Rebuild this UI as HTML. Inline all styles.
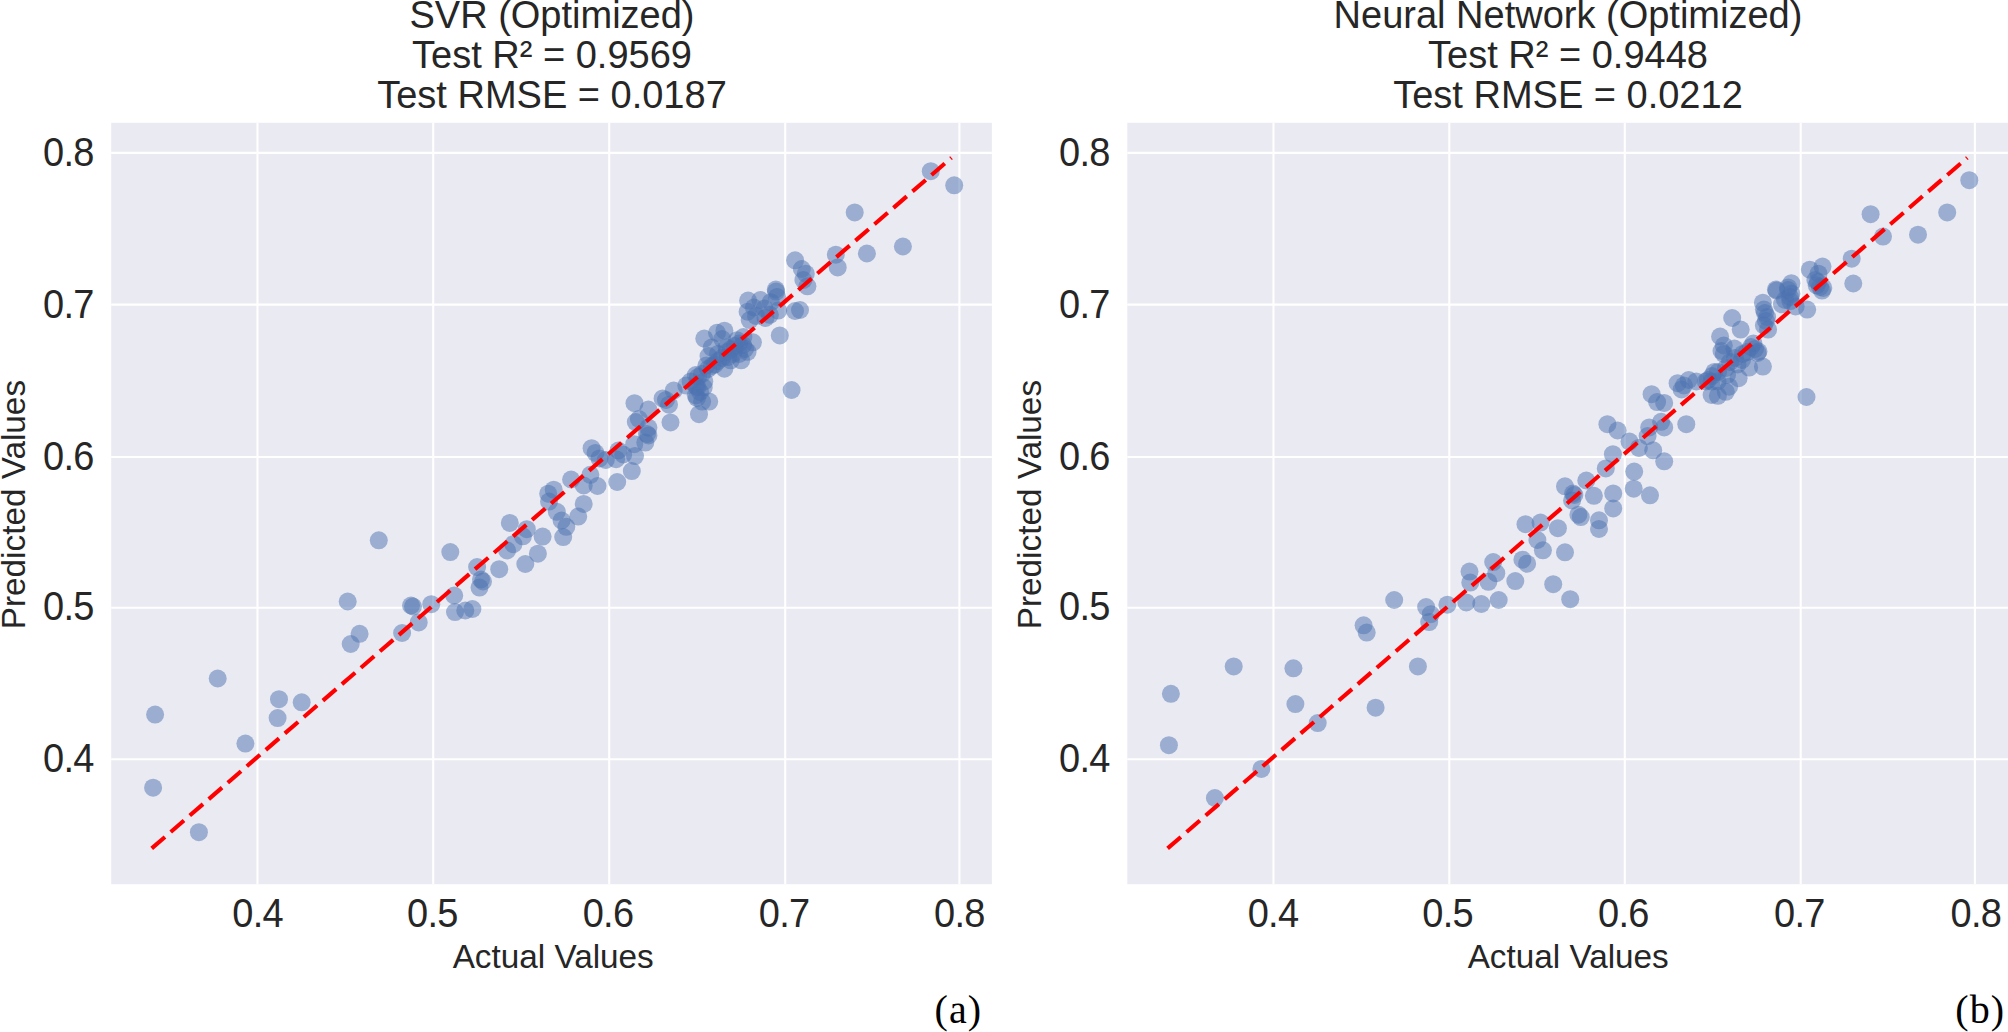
<!DOCTYPE html>
<html lang="en"><head><meta charset="utf-8"><title>Predicted vs Actual</title>
<style>
html,body{margin:0;padding:0;background:#fff;}
body{width:2008px;height:1032px;overflow:hidden;}
svg{display:block;}
.s{font-family:"Liberation Sans",sans-serif;fill:#262626;}
.t{font-size:38px;}
.k{font-size:38px;letter-spacing:-0.7px;}
.l{font-size:33.3px;}
.g{font-family:"Liberation Serif",serif;font-size:40px;fill:#000;letter-spacing:1px;}
.gr{stroke:#fff;stroke-width:2.1;}
.d circle{fill:#4c72b0;fill-opacity:.5;}
.rl{stroke:#ff0000;stroke-width:4.1;stroke-dasharray:17.54 7.59;fill:none;}
</style></head><body>
<svg width="2008" height="1032" viewBox="0 0 2008 1032">
<g>
<rect x="111.2" y="122.8" width="880.7" height="761.4" fill="#eaeaf2"/>
<line class="gr" x1="257.5" y1="122.8" x2="257.5" y2="884.2"/>
<line class="gr" x1="433.2" y1="122.8" x2="433.2" y2="884.2"/>
<line class="gr" x1="609.2" y1="122.8" x2="609.2" y2="884.2"/>
<line class="gr" x1="785.2" y1="122.8" x2="785.2" y2="884.2"/>
<line class="gr" x1="959.4" y1="122.8" x2="959.4" y2="884.2"/>
<line class="gr" x1="111.2" y1="152.9" x2="991.9" y2="152.9"/>
<line class="gr" x1="111.2" y1="304.6" x2="991.9" y2="304.6"/>
<line class="gr" x1="111.2" y1="457" x2="991.9" y2="457"/>
<line class="gr" x1="111.2" y1="607.7" x2="991.9" y2="607.7"/>
<line class="gr" x1="111.2" y1="759.2" x2="991.9" y2="759.2"/>
<g class="d">
<circle cx="155.1" cy="714.6" r="9"/><circle cx="153.1" cy="787.7" r="9"/><circle cx="198.9" cy="832.2" r="9"/><circle cx="245.4" cy="743.6" r="9"/><circle cx="279" cy="699.2" r="9"/><circle cx="277.6" cy="718.1" r="9"/><circle cx="301.7" cy="702.3" r="9"/><circle cx="217.7" cy="678.5" r="9"/><circle cx="378.8" cy="540.3" r="9"/><circle cx="347.7" cy="601.5" r="9"/><circle cx="359.6" cy="633.8" r="9"/><circle cx="350.7" cy="644" r="9"/><circle cx="402.1" cy="633" r="9"/><circle cx="411" cy="605.5" r="9"/><circle cx="413" cy="606.5" r="9"/><circle cx="450.3" cy="552.1" r="9"/><circle cx="431.3" cy="604.2" r="9"/><circle cx="418.7" cy="622.4" r="9"/><circle cx="454.2" cy="595.5" r="9"/><circle cx="455" cy="612.1" r="9"/><circle cx="465.3" cy="610.5" r="9"/><circle cx="472.4" cy="609" r="9"/><circle cx="477.1" cy="567.1" r="9"/><circle cx="481" cy="579.5" r="9"/><circle cx="483" cy="581.5" r="9"/><circle cx="479.5" cy="587.6" r="9"/><circle cx="499.2" cy="569.2" r="9"/><circle cx="509.8" cy="522.9" r="9"/><circle cx="525.3" cy="564" r="9"/><circle cx="537.9" cy="553.7" r="9"/><circle cx="542.6" cy="536.6" r="9"/><circle cx="526.8" cy="529.2" r="9"/><circle cx="522.9" cy="536.3" r="9"/><circle cx="513.4" cy="544.2" r="9"/><circle cx="507.1" cy="550.5" r="9"/><circle cx="563.2" cy="537.1" r="9"/><circle cx="566.3" cy="526.8" r="9"/><circle cx="561.6" cy="520.5" r="9"/><circle cx="556.8" cy="511.8" r="9"/><circle cx="549" cy="501.6" r="9"/><circle cx="553.7" cy="489.7" r="9"/><circle cx="548.2" cy="493.7" r="9"/><circle cx="578.2" cy="516.6" r="9"/><circle cx="583.7" cy="503.9" r="9"/><circle cx="571.1" cy="479.5" r="9"/><circle cx="583.7" cy="485.5" r="9"/><circle cx="597.5" cy="486" r="9"/><circle cx="590.4" cy="474.8" r="9"/><circle cx="617.2" cy="482" r="9"/><circle cx="591.6" cy="448.2" r="9"/><circle cx="595.5" cy="452.9" r="9"/><circle cx="599.5" cy="458.4" r="9"/><circle cx="605.8" cy="460" r="9"/><circle cx="616.1" cy="459.2" r="9"/><circle cx="618.4" cy="450.5" r="9"/><circle cx="623.2" cy="454.5" r="9"/><circle cx="631.8" cy="471.1" r="9"/><circle cx="635" cy="456.1" r="9"/><circle cx="634.2" cy="444.2" r="9"/><circle cx="645.3" cy="442.6" r="9"/><circle cx="647" cy="434" r="9"/><circle cx="648.4" cy="435.4" r="9"/><circle cx="648.4" cy="427.6" r="9"/><circle cx="635.8" cy="422.1" r="9"/><circle cx="638.9" cy="419" r="9"/><circle cx="648.4" cy="409.5" r="9"/><circle cx="634.5" cy="403.2" r="9"/><circle cx="670.5" cy="422.4" r="9"/><circle cx="669" cy="404.7" r="9"/><circle cx="662.6" cy="398.4" r="9"/><circle cx="666" cy="400" r="9"/><circle cx="673.7" cy="390.5" r="9"/><circle cx="699" cy="414.2" r="9"/><circle cx="709.2" cy="401.6" r="9"/><circle cx="702.1" cy="401.6" r="9"/><circle cx="695.8" cy="395.3" r="9"/><circle cx="703.7" cy="387.4" r="9"/><circle cx="697.4" cy="387.4" r="9"/><circle cx="791.6" cy="390" r="9"/><circle cx="704.3" cy="338.6" r="9"/><circle cx="717" cy="332.8" r="9"/><circle cx="724.4" cy="330.7" r="9"/><circle cx="722.2" cy="339.1" r="9"/><circle cx="711.7" cy="347.6" r="9"/><circle cx="708.5" cy="356" r="9"/><circle cx="718" cy="353.9" r="9"/><circle cx="726.5" cy="347.6" r="9"/><circle cx="737" cy="340.2" r="9"/><circle cx="743.4" cy="337" r="9"/><circle cx="752.9" cy="342.3" r="9"/><circle cx="747.6" cy="351.8" r="9"/><circle cx="739.1" cy="353.9" r="9"/><circle cx="741.2" cy="360.3" r="9"/><circle cx="730.7" cy="360.3" r="9"/><circle cx="724.4" cy="368.7" r="9"/><circle cx="714.8" cy="364.5" r="9"/><circle cx="706.4" cy="365.5" r="9"/><circle cx="695.8" cy="375" r="9"/><circle cx="704.3" cy="381.4" r="9"/><circle cx="690.6" cy="381.4" r="9"/><circle cx="686.3" cy="385.6" r="9"/><circle cx="748.1" cy="300.6" r="9"/><circle cx="747.6" cy="311.7" r="9"/><circle cx="760.3" cy="300.1" r="9"/><circle cx="753.9" cy="307.5" r="9"/><circle cx="749.7" cy="320.1" r="9"/><circle cx="756" cy="315.9" r="9"/><circle cx="765.5" cy="318" r="9"/><circle cx="764.5" cy="308.5" r="9"/><circle cx="770.8" cy="302.2" r="9"/><circle cx="776.1" cy="291.6" r="9"/><circle cx="777.1" cy="296.9" r="9"/><circle cx="778.2" cy="310.6" r="9"/><circle cx="769.8" cy="314.8" r="9"/><circle cx="795" cy="311" r="9"/><circle cx="800" cy="310" r="9"/><circle cx="779.8" cy="335.4" r="9"/><circle cx="930.8" cy="171.2" r="9"/><circle cx="954.2" cy="185.3" r="9"/><circle cx="854.7" cy="212.4" r="9"/><circle cx="902.9" cy="246.5" r="9"/><circle cx="866.9" cy="253.5" r="9"/><circle cx="835.8" cy="254.7" r="9"/><circle cx="837.7" cy="267.4" r="9"/><circle cx="795.1" cy="260.3" r="9"/><circle cx="801.8" cy="269" r="9"/><circle cx="805.8" cy="273.7" r="9"/><circle cx="803.4" cy="280" r="9"/><circle cx="807.4" cy="286.3" r="9"/><circle cx="775.8" cy="289.5" r="9"/><circle cx="727" cy="352" r="9"/><circle cx="731" cy="349" r="9"/><circle cx="735" cy="346" r="9"/><circle cx="739" cy="343.5" r="9"/><circle cx="743" cy="345" r="9"/><circle cx="733" cy="354" r="9"/><circle cx="722" cy="358" r="9"/><circle cx="718" cy="361" r="9"/><circle cx="712" cy="366" r="9"/><circle cx="708" cy="369" r="9"/><circle cx="702" cy="374" r="9"/><circle cx="698" cy="377" r="9"/><circle cx="745" cy="349" r="9"/><circle cx="728" cy="357" r="9"/><circle cx="696" cy="386" r="9"/><circle cx="700" cy="392" r="9"/><circle cx="697" cy="398" r="9"/>
</g>
<line class="rl" x1="151.7" y1="848.4" x2="951.5" y2="157.7"/>
<text class="s t" x="552" y="28" text-anchor="middle">SVR (Optimized)</text>
<text class="s t" x="552" y="67.8" text-anchor="middle">Test R² = 0.9569</text>
<text class="s t" x="552" y="107.6" text-anchor="middle">Test RMSE = 0.0187</text>
<text class="s k" transform="translate(93.8,165.5) scale(1,1.075)" text-anchor="end">0.8</text>
<text class="s k" transform="translate(93.8,318) scale(1,1.075)" text-anchor="end">0.7</text>
<text class="s k" transform="translate(93.8,469.6) scale(1,1.075)" text-anchor="end">0.6</text>
<text class="s k" transform="translate(93.8,619.8) scale(1,1.075)" text-anchor="end">0.5</text>
<text class="s k" transform="translate(93.8,771.8) scale(1,1.075)" text-anchor="end">0.4</text>
<text class="s k" transform="translate(257.65,927.4) scale(1,1.075)" text-anchor="middle">0.4</text>
<text class="s k" transform="translate(432.35,927.4) scale(1,1.075)" text-anchor="middle">0.5</text>
<text class="s k" transform="translate(608.05,927.4) scale(1,1.075)" text-anchor="middle">0.6</text>
<text class="s k" transform="translate(784.15,927.4) scale(1,1.075)" text-anchor="middle">0.7</text>
<text class="s k" transform="translate(959.45,927.4) scale(1,1.075)" text-anchor="middle">0.8</text>
<text class="s l" x="553.2" y="968.2" text-anchor="middle">Actual Values</text>
<text class="s l" transform="translate(24.7,504.6) rotate(-90)" text-anchor="middle">Predicted Values</text>
<text class="g" x="982" y="1022.6" text-anchor="end">(a)</text>
</g>
<g>
<rect x="1127.3" y="122.8" width="880.7" height="761.4" fill="#eaeaf2"/>
<line class="gr" x1="1273.5" y1="122.8" x2="1273.5" y2="884.2"/>
<line class="gr" x1="1449.3" y1="122.8" x2="1449.3" y2="884.2"/>
<line class="gr" x1="1624.8" y1="122.8" x2="1624.8" y2="884.2"/>
<line class="gr" x1="1800.7" y1="122.8" x2="1800.7" y2="884.2"/>
<line class="gr" x1="1974.9" y1="122.8" x2="1974.9" y2="884.2"/>
<line class="gr" x1="1127.3" y1="152.9" x2="2008" y2="152.9"/>
<line class="gr" x1="1127.3" y1="304.6" x2="2008" y2="304.6"/>
<line class="gr" x1="1127.3" y1="457" x2="2008" y2="457"/>
<line class="gr" x1="1127.3" y1="607.7" x2="2008" y2="607.7"/>
<line class="gr" x1="1127.3" y1="759.2" x2="2008" y2="759.2"/>
<g class="d">
<circle cx="1170.9" cy="693.8" r="9"/><circle cx="1168.9" cy="745.2" r="9"/><circle cx="1214.9" cy="798" r="9"/><circle cx="1261.4" cy="768.9" r="9"/><circle cx="1295.4" cy="704.1" r="9"/><circle cx="1317.7" cy="723.1" r="9"/><circle cx="1375.6" cy="707.7" r="9"/><circle cx="1233.7" cy="666.4" r="9"/><circle cx="1293.4" cy="668.3" r="9"/><circle cx="1363.6" cy="625.3" r="9"/><circle cx="1366.7" cy="632.6" r="9"/><circle cx="1394.2" cy="600" r="9"/><circle cx="1417.9" cy="666.4" r="9"/><circle cx="1426.1" cy="607.1" r="9"/><circle cx="1430.8" cy="614.2" r="9"/><circle cx="1429.2" cy="622.1" r="9"/><circle cx="1447.4" cy="604.7" r="9"/><circle cx="1466.3" cy="602.4" r="9"/><circle cx="1481.3" cy="604" r="9"/><circle cx="1498.7" cy="600" r="9"/><circle cx="1469.5" cy="571.6" r="9"/><circle cx="1470.3" cy="582.6" r="9"/><circle cx="1488.4" cy="581.8" r="9"/><circle cx="1493.2" cy="562.1" r="9"/><circle cx="1496.3" cy="573.2" r="9"/><circle cx="1515.3" cy="581.1" r="9"/><circle cx="1522.4" cy="559.7" r="9"/><circle cx="1527.1" cy="563.7" r="9"/><circle cx="1553.2" cy="584.2" r="9"/><circle cx="1570.2" cy="599.2" r="9"/><circle cx="1565" cy="552.3" r="9"/><circle cx="1542.9" cy="550.3" r="9"/><circle cx="1537.4" cy="540" r="9"/><circle cx="1525.5" cy="524.2" r="9"/><circle cx="1540.5" cy="522.6" r="9"/><circle cx="1557.9" cy="528.2" r="9"/><circle cx="1599" cy="528.9" r="9"/><circle cx="1599" cy="520.3" r="9"/><circle cx="1580.8" cy="517.1" r="9"/><circle cx="1578.4" cy="514.7" r="9"/><circle cx="1613.2" cy="508.4" r="9"/><circle cx="1613.2" cy="493.4" r="9"/><circle cx="1593.9" cy="495.8" r="9"/><circle cx="1573" cy="493.5" r="9"/><circle cx="1574.4" cy="495" r="9"/><circle cx="1572.1" cy="500.5" r="9"/><circle cx="1565" cy="486.3" r="9"/><circle cx="1586.3" cy="480.5" r="9"/><circle cx="1633.7" cy="488.7" r="9"/><circle cx="1634.2" cy="471.6" r="9"/><circle cx="1650" cy="495.3" r="9"/><circle cx="1605.8" cy="468.4" r="9"/><circle cx="1612.9" cy="454.2" r="9"/><circle cx="1607.4" cy="424.2" r="9"/><circle cx="1617.6" cy="430.5" r="9"/><circle cx="1629.5" cy="441.6" r="9"/><circle cx="1638.9" cy="447.9" r="9"/><circle cx="1653.2" cy="450.3" r="9"/><circle cx="1664.2" cy="461.3" r="9"/><circle cx="1647.6" cy="436.1" r="9"/><circle cx="1649.2" cy="427.4" r="9"/><circle cx="1664.2" cy="427.4" r="9"/><circle cx="1661.1" cy="421.8" r="9"/><circle cx="1686.3" cy="424.2" r="9"/><circle cx="1651.6" cy="394.2" r="9"/><circle cx="1657.1" cy="402.1" r="9"/><circle cx="1664.2" cy="402.9" r="9"/><circle cx="1677.6" cy="383.2" r="9"/><circle cx="1683.9" cy="385.5" r="9"/><circle cx="1688.7" cy="380" r="9"/><circle cx="1681.6" cy="389.5" r="9"/><circle cx="1711.6" cy="395" r="9"/><circle cx="1717.9" cy="395.8" r="9"/><circle cx="1725.8" cy="391.8" r="9"/><circle cx="1711.6" cy="381.6" r="9"/><circle cx="1806.5" cy="397" r="9"/><circle cx="1732.2" cy="318" r="9"/><circle cx="1740.7" cy="329.6" r="9"/><circle cx="1720.1" cy="336.5" r="9"/><circle cx="1723.8" cy="345.5" r="9"/><circle cx="1723.8" cy="353.9" r="9"/><circle cx="1734.4" cy="348.6" r="9"/><circle cx="1742.8" cy="353.9" r="9"/><circle cx="1753.4" cy="343.4" r="9"/><circle cx="1757.6" cy="352.9" r="9"/><circle cx="1762.9" cy="366.6" r="9"/><circle cx="1749.1" cy="367.6" r="9"/><circle cx="1737.5" cy="364.5" r="9"/><circle cx="1738.6" cy="378.2" r="9"/><circle cx="1727" cy="375" r="9"/><circle cx="1714.3" cy="371.9" r="9"/><circle cx="1717.5" cy="381.4" r="9"/><circle cx="1705.8" cy="381.4" r="9"/><circle cx="1696.3" cy="381.4" r="9"/><circle cx="1729.1" cy="386.7" r="9"/><circle cx="1762.9" cy="302.7" r="9"/><circle cx="1763.9" cy="309.6" r="9"/><circle cx="1767.1" cy="317" r="9"/><circle cx="1763.9" cy="325.4" r="9"/><circle cx="1768.1" cy="329.6" r="9"/><circle cx="1776.6" cy="290.6" r="9"/><circle cx="1788.2" cy="287.4" r="9"/><circle cx="1791.4" cy="283.2" r="9"/><circle cx="1791.4" cy="293.7" r="9"/><circle cx="1790.3" cy="301.1" r="9"/><circle cx="1781.9" cy="304.3" r="9"/><circle cx="1795.6" cy="306.4" r="9"/><circle cx="1807.2" cy="309.6" r="9"/><circle cx="1822" cy="290.6" r="9"/><circle cx="1816.7" cy="285.3" r="9"/><circle cx="1969.3" cy="180.2" r="9"/><circle cx="1947.2" cy="212.4" r="9"/><circle cx="1918" cy="234.7" r="9"/><circle cx="1870.6" cy="214.2" r="9"/><circle cx="1883" cy="236.6" r="9"/><circle cx="1851.7" cy="258.7" r="9"/><circle cx="1853.3" cy="283.5" r="9"/><circle cx="1809.8" cy="269.7" r="9"/><circle cx="1822.5" cy="266.6" r="9"/><circle cx="1818.5" cy="273.7" r="9"/><circle cx="1815.4" cy="280" r="9"/><circle cx="1823.3" cy="287.9" r="9"/><circle cx="1775.9" cy="289.5" r="9"/><circle cx="1721.5" cy="351" r="9"/><circle cx="1742" cy="360" r="9"/><circle cx="1755" cy="349" r="9"/><circle cx="1758.5" cy="351.5" r="9"/><circle cx="1730" cy="362" r="9"/><circle cx="1726" cy="368" r="9"/><circle cx="1735" cy="358" r="9"/><circle cx="1747" cy="352" r="9"/><circle cx="1751" cy="347" r="9"/><circle cx="1712" cy="376" r="9"/><circle cx="1718" cy="372" r="9"/><circle cx="1708" cy="380" r="9"/><circle cx="1765" cy="313" r="9"/><circle cx="1766" cy="321" r="9"/><circle cx="1788" cy="290" r="9"/><circle cx="1790" cy="297" r="9"/><circle cx="1785" cy="300" r="9"/><circle cx="1818" cy="282" r="9"/><circle cx="1820" cy="287" r="9"/>
</g>
<line class="rl" x1="1167.6" y1="848.4" x2="1967.3" y2="157.7"/>
<text class="s t" x="1568" y="28" text-anchor="middle">Neural Network (Optimized)</text>
<text class="s t" x="1568" y="67.8" text-anchor="middle">Test R² = 0.9448</text>
<text class="s t" x="1568" y="107.6" text-anchor="middle">Test RMSE = 0.0212</text>
<text class="s k" transform="translate(1109.8,165.5) scale(1,1.075)" text-anchor="end">0.8</text>
<text class="s k" transform="translate(1109.8,318) scale(1,1.075)" text-anchor="end">0.7</text>
<text class="s k" transform="translate(1109.8,469.6) scale(1,1.075)" text-anchor="end">0.6</text>
<text class="s k" transform="translate(1109.8,619.8) scale(1,1.075)" text-anchor="end">0.5</text>
<text class="s k" transform="translate(1109.8,771.8) scale(1,1.075)" text-anchor="end">0.4</text>
<text class="s k" transform="translate(1273.05,927.4) scale(1,1.075)" text-anchor="middle">0.4</text>
<text class="s k" transform="translate(1447.65,927.4) scale(1,1.075)" text-anchor="middle">0.5</text>
<text class="s k" transform="translate(1623.45,927.4) scale(1,1.075)" text-anchor="middle">0.6</text>
<text class="s k" transform="translate(1799.45,927.4) scale(1,1.075)" text-anchor="middle">0.7</text>
<text class="s k" transform="translate(1975.95,927.4) scale(1,1.075)" text-anchor="middle">0.8</text>
<text class="s l" x="1568.2" y="968.2" text-anchor="middle">Actual Values</text>
<text class="s l" transform="translate(1040.7,504.6) rotate(-90)" text-anchor="middle">Predicted Values</text>
<text class="g" x="2005" y="1022.6" text-anchor="end">(b)</text>
</g>
</svg>
</body></html>
